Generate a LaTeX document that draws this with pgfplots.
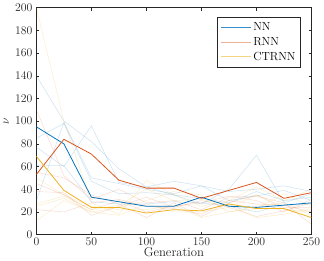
\documentclass[border=0pt]{standalone}
\usepackage{pgfplots}
\pgfplotsset{compat=1.18}
\definecolor{mblue}{RGB}{0,114,189}
\definecolor{morange}{RGB}{217,83,25}
\definecolor{myellow}{RGB}{237,177,32}
\definecolor{axgray}{RGB}{38,38,38}
\begin{document}
\fontsize{12}{14}\selectfont
\begin{tikzpicture}
\begin{axis}[
  scale only axis,
  width=280bp, height=231bp,
  xmin=0, xmax=250, ymin=0, ymax=200,
  xtick={0,50,...,250}, ytick={0,20,...,200},
  tick align=inside,
  major tick length=3bp,
  axis line style={axgray, line width=0.5pt},
  every tick/.style={axgray, line width=0.5pt},
  tick label style={font=\fontsize{12}{14}\selectfont, text=axgray},
  label style={font=\fontsize{13}{15}\selectfont, text=axgray},
  xticklabel style={yshift=1bp},
  xlabel={Generation},
  ylabel={$\nu$},
  xlabel style={yshift=6bp},
  ylabel style={yshift=-2bp},
  legend cell align=left,
  legend style={at={(0.961,0.957)}, anchor=north east, draw=axgray, line width=0.5pt,
    font=\fontsize{12}{14}\selectfont, inner xsep=3pt, inner ysep=3pt, row sep=1pt},
  legend image code/.code={\draw[#1] (0bp,0bp) -- (30bp,0bp);},
  legend plot pos=left,
]
\addlegendimage{mblue, line width=0.7pt, opacity=0.8}
\addlegendentry{NN}
\addlegendimage{morange, line width=1.2pt, opacity=0.45}
\addlegendentry{RNN}
\addlegendimage{myellow, line width=1.0pt, opacity=0.55}
\addlegendentry{CTRNN}

% faint NN runs
\addplot[forget plot, mblue, opacity=0.18, line width=0.6pt] coordinates {(0,140)(25,100)(50,82)(75,58)(100,42)(125,47)(150,43)(175,38)(200,40)(225,43)(250,38)};
\addplot[forget plot, mblue, opacity=0.18, line width=0.6pt] coordinates {(0,85)(25,98)(50,47)(75,36)(100,37)(125,35)(150,27)(175,40)(200,70)(225,28)(250,36)};
\addplot[forget plot, mblue, opacity=0.18, line width=0.6pt] coordinates {(0,30)(25,99)(50,50)(75,45)(100,40)(125,36)(150,43)(175,30)(200,34)(225,39)(250,30)};
\addplot[forget plot, mblue, opacity=0.18, line width=0.6pt] coordinates {(0,77)(25,60)(50,96)(75,46)(100,42)(125,35)(150,32)(175,28)(200,38)(225,30)(250,33)};
\addplot[forget plot, mblue, opacity=0.18, line width=0.6pt] coordinates {(0,61)(25,61)(50,29)(75,27)(100,27)(125,29)(150,28)(175,25)(200,20)(225,26)(250,27)};
% faint RNN runs
\addplot[forget plot, morange, opacity=0.18, line width=0.6pt] coordinates {(0,110)(25,52)(50,31)(75,40)(100,28)(125,30)(150,22)(175,33)(200,34)(225,28)(250,9)};
\addplot[forget plot, morange, opacity=0.18, line width=0.6pt] coordinates {(0,55)(25,50)(50,35)(75,27)(100,15)(125,28)(150,16)(175,28)(200,35)(225,24)(250,24)};
\addplot[forget plot, morange, opacity=0.18, line width=0.6pt] coordinates {(0,38)(25,37)(50,17)(75,25)(100,33)(125,24)(150,30)(175,24)(200,16)(225,21)(250,28)};
\addplot[forget plot, morange, opacity=0.18, line width=0.6pt] coordinates {(0,22)(25,20)(50,28)(75,31)(100,25)(125,23)(150,18)(175,30)(200,27)(225,26)(250,20)};
\addplot[forget plot, morange, opacity=0.18, line width=0.6pt] coordinates {(0,45)(25,35)(50,22)(75,30)(100,20)(125,25)(150,28)(175,34)(200,30)(225,20)(250,31)};
% faint CTRNN runs
\addplot[forget plot, myellow, opacity=0.2, line width=0.6pt] coordinates {(0,200)(25,100)(50,28)(75,18)(100,48)(125,35)(150,25)(175,30)(200,42)(225,30)(250,40)};
\addplot[forget plot, myellow, opacity=0.2, line width=0.6pt] coordinates {(0,12)(25,30)(50,20)(75,24)(100,30)(125,38)(150,35)(175,20)(200,23)(225,36)(250,25)};
\addplot[forget plot, myellow, opacity=0.2, line width=0.6pt] coordinates {(0,25)(25,32)(50,20)(75,17)(100,27)(125,20)(150,20)(175,24)(200,35)(225,22)(250,20)};
\addplot[forget plot, myellow, opacity=0.2, line width=0.6pt] coordinates {(0,50)(25,35)(50,25)(75,22)(100,22)(125,26)(150,15)(175,20)(200,25)(225,28)(250,17)};
\addplot[forget plot, myellow, opacity=0.2, line width=0.6pt] coordinates {(0,27)(25,34)(50,22)(75,26)(100,40)(125,30)(150,31)(175,26)(200,15)(225,18)(250,23)};

% mean lines
\addplot[forget plot, mblue, line width=0.8pt] coordinates {(0,95)(25,80)(50,33)(75,29)(100,25)(125,25)(150,33)(175,25)(200,24)(225,26)(250,28)};
\addplot[forget plot, morange, line width=0.8pt] coordinates {(0,53)(25,84)(50,71)(75,48)(100,41)(125,41)(150,32)(175,39)(200,46)(225,32)(250,37)};
\addplot[forget plot, myellow, line width=0.8pt] coordinates {(0,69)(25,39)(50,24)(75,24)(100,19)(125,22)(150,21)(175,27)(200,23)(225,23)(250,15)};
\end{axis}
\end{tikzpicture}
\end{document}
